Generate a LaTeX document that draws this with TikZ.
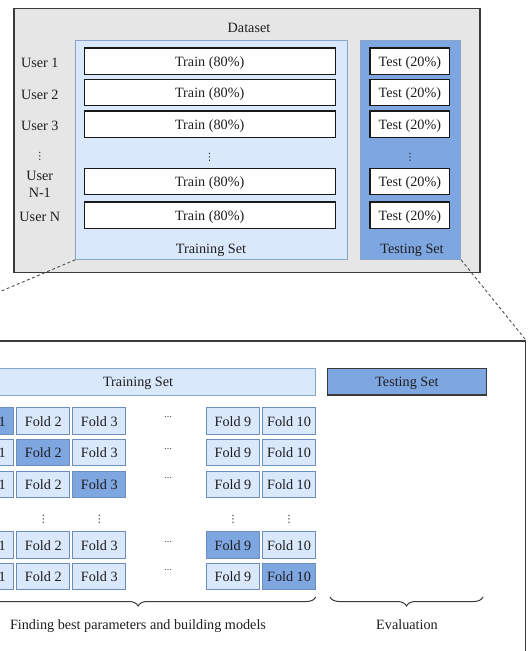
\documentclass[tikz,border=0pt]{standalone}
\usepackage{fontspec}
\setmainfont{Liberation Serif}
\newfontfamily\dvsans{DejaVu Sans}
\usetikzlibrary{decorations.pathreplacing}
\definecolor{lblue}{HTML}{DAE8FC}
\definecolor{bborder}{HTML}{6C8EBF}
\definecolor{dblue}{HTML}{7EA6E0}
\definecolor{lgray}{HTML}{E6E6E6}
\definecolor{dgray}{HTML}{3A3A3A}
\definecolor{txt}{HTML}{1E1E1E}
\tikzset{
  every node/.style={text=txt, inner sep=0pt},
  lbl/.style={text height=11.8pt, text depth=1.4pt},
  outerbox/.style={draw=dgray, fill=lgray, line width=1.5pt},
  setlight/.style={draw=bborder!80, fill=lblue, line width=1pt},
  setdark/.style={draw=bborder!80, fill=dblue, line width=1pt},
  whitebox/.style={lbl, draw=black!90, fill=white, line width=1.3pt, minimum height=26.3pt},
  trainbox/.style={whitebox, minimum width=251pt},
  testbox/.style={whitebox, minimum width=79.9pt},
  lowerbox/.style={draw=dgray, fill=white, line width=1.2pt},
  fold/.style={lbl, draw=bborder, fill=lblue, line width=1pt, minimum width=53pt, minimum height=26.6pt},
  foldhi/.style={fold, fill=dblue},
  vdot/.style={font=\dvsans\fontsize{10}{10}\selectfont},
  hdot/.style={font=\dvsans\fontsize{8}{8}\selectfont},
  conn/.style={draw=black!70, dashed, dash pattern=on 3pt off 2.5pt, line width=0.9pt},
  bracestyle/.style={draw=dgray, line width=1pt, decorate, decoration={brace, amplitude=9pt}},
}
\begin{document}
\begin{tikzpicture}[x=1pt, y=-1pt, font=\fontsize{14.2}{16.7}\selectfont]
\useasboundingbox (0,0) rectangle (529,651);
\clip (0,0) rectangle (529,651);

% ---------- upper part ----------
\node[outerbox, minimum width=465.8pt, minimum height=264.2pt] (dataset) at (247.1,140.4) {};
\node[lbl] (datasetlbl) at (249,27) {Dataset};

\node[setlight, minimum width=271.9pt, minimum height=219.3pt] (trainset) at (211.75,149.65) {};
\node[setdark, minimum width=99.8pt, minimum height=219.3pt] (testset) at (410.7,149.65) {};
\node[lbl] (trainsetlbl) at (211,248.3) {Training Set};
\node[lbl] (testsetlbl) at (412,248.3) {Testing Set};

\foreach \r/\y in {1/61.15, 2/92.65, 3/124.15, 4/181.65, 5/215} {
  \node[trainbox] (train\r) at (209.7,\y) {Train (80\%)};
  \node[testbox] (test\r) at (409.85,\y) {Test (20\%)};
}
\node[vdot] (traindots) at (209.6,157.5) {⋮};
\node[vdot] (testdots) at (410,157.5) {⋮};

\node[lbl] (user1) at (39.8,62.3) {User 1};
\node[lbl] (user2) at (39.8,94.3) {User 2};
\node[lbl] (user3) at (39.8,125.7) {User 3};
\node[vdot] (userdots) at (39.8,156.5) {⋮};
\node[align=center] (userN1) at (39.8,184) {User\\N-1};
\node[lbl] (userN) at (39.8,216) {User N};

% ---------- lower part ----------
\node[lowerbox, minimum width=640.5pt, minimum height=379pt] (lower) at (205.25,530.5) {};

\draw[conn] (trainset.south west) -- (lower.north west);
\draw[conn] (testset.south east) -- (lower.north east);

\node[lbl, setlight, minimum width=355.2pt, minimum height=26.7pt] (trainbar) at (138.1,381.65) {Training Set};
\node[lbl, draw=dgray, fill=dblue, line width=1.2pt, minimum width=158.8pt, minimum height=26.7pt] (testbar) at (406.9,381.65) {Testing Set};

\foreach \r/\y/\h in {1/421/1, 2/452.5/2, 3/484.35/3, 4/545/9, 5/576.65/10} {
  \foreach \c/\x in {1/-12.7, 2/43.3, 3/99.3, 9/233, 10/289} {
    \ifnum\c=\h\relax \def\fstyle{foldhi}\else\def\fstyle{fold}\fi
    \node[\fstyle] (f\r-\c) at (\x,\y) {Fold \c};
  }
}
\foreach \r/\y in {1/418.3, 2/450, 3/479, 4/543.3, 5/570.7} {
  \node[hdot] (hd\r) at (168,\y) {⋯};
}
\foreach \c/\x in {2/43.3, 3/99.3, 9/233, 10/289} {
  \node[vdot] (vd\c) at (\x,519.3) {⋮};
}

\coordinate (b1r) at (315.7,597);
\coordinate (b1l) at (-39.5,597);
\coordinate (b2r) at (483,597);
\coordinate (b2l) at (330,597);
\draw[bracestyle] (b1r) -- (b1l);
\draw[bracestyle] (b2r) -- (b2l);

\node[lbl] (findlbl) at (138,624.3) {Finding best parameters and building models};
\node[lbl] (evallbl) at (407,624.3) {Evaluation};
\end{tikzpicture}
\end{document}
